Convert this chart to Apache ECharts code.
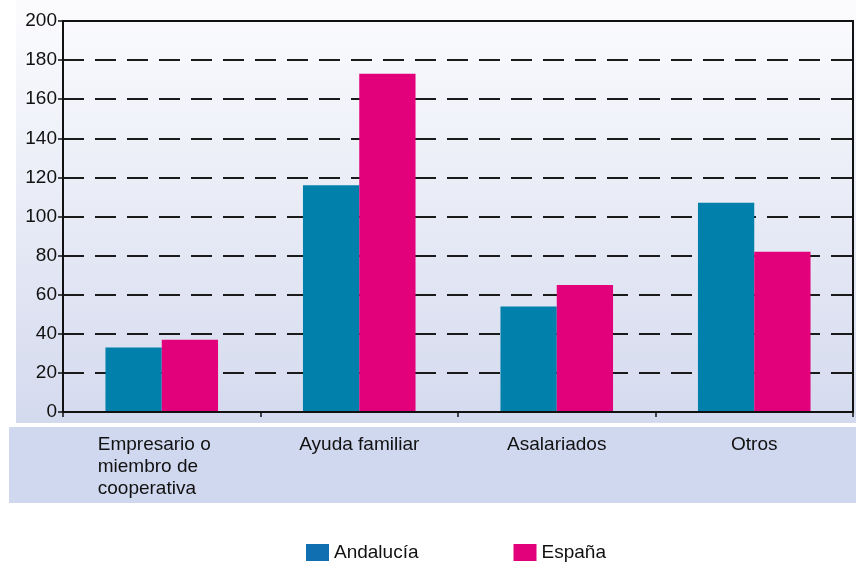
<!DOCTYPE html>
<html><head><meta charset="utf-8">
<script src="https://cdn.jsdelivr.net/npm/echarts@6/dist/echarts.min.js"></script>
<style>html,body{margin:0;padding:0;background:#fff}#c{width:856px;height:565px}</style>
</head><body><div id="c"></div>
<script>
var categories = ['Empresario o\nmiembro de\ncooperativa', 'Ayuda familiar', 'Asalariados', 'Otros'];
var andalucia = [33, 116, 54, 107];
var espana = [37, 173, 65, 82];
var yTicks = [0, 200, 20];

var chart = echarts.init(document.getElementById('c'), null, {renderer: 'canvas'});
var font = '"Liberation Sans", Arial, sans-serif';
var splitColors = [];
for (var i = 0; i < 10; i++) splitColors.push('#1a1a1a');
splitColors.push('rgba(0,0,0,0)');
chart.setOption({
  animation: false,
  backgroundColor: '#ffffff',
  graphic: [
    {type: 'rect', z: -10, silent: true, shape: {x: 16, y: 0, width: 840, height: 423},
     style: {fill: new echarts.graphic.LinearGradient(0, 0, 0, 1, [{offset: 0, color: '#fcfcfe'}, {offset: 1, color: '#d4daee'}])}},
    {type: 'rect', z: -10, silent: true, shape: {x: 9, y: 427, width: 847, height: 76},
     style: {fill: '#d0d8ef'}}
  ],
  grid: {left: 63, right: 3, top: 21, bottom: 153, containLabel: false},
  legend: {
    left: 306, top: 543, padding: 0, itemWidth: 23, itemHeight: 17, itemGap: 95,
    icon: 'rect',
    textStyle: {fontFamily: font, fontSize: 19, color: '#111'},
    data: [
      {name: 'Andalucía', itemStyle: {color: '#106fb0'}},
      {name: 'España', itemStyle: {color: '#e3007b'}}
    ]
  },
  xAxis: [{
    type: 'category', data: categories, z: 5,
    axisLine: {onZero: false, lineStyle: {color: '#111', width: 2}},
    axisTick: {show: true, length: 5, lineStyle: {color: '#111', width: 1.5}},
    axisLabel: {
      margin: 22, color: '#111', fontFamily: font, fontSize: 19, lineHeight: 22,
      formatter: function (v) {
        return v.indexOf('\n') >= 0 ? v.split('\n').map(function (s) { return '{l|' + s + '}'; }).join('\n') : v;
      },
      rich: {l: {width: 128, align: 'left', fontFamily: font, fontSize: 19, color: '#111', lineHeight: 22}}
    }
  }, {
    type: 'category', position: 'top', data: categories, z: 5,
    axisLine: {onZero: false, lineStyle: {color: '#111', width: 2}},
    axisTick: {show: false}, axisLabel: {show: false}
  }],
  yAxis: [{
    type: 'value', min: yTicks[0], max: yTicks[1], interval: yTicks[2],
    axisLine: {show: true, onZero: false, lineStyle: {color: '#111', width: 2}},
    axisTick: {show: true, length: 5, lineStyle: {color: '#111', width: 1.5}},
    axisLabel: {margin: 6, color: '#111', fontFamily: font, fontSize: 19},
    splitLine: {show: true, lineStyle: {color: splitColors, width: 2, type: [21, 11]}}
  }, {
    type: 'value', position: 'right', min: yTicks[0], max: yTicks[1], interval: yTicks[2], z: 5,
    axisLine: {show: true, onZero: false, lineStyle: {color: '#111', width: 2}},
    axisTick: {show: false}, axisLabel: {show: false}, splitLine: {show: false}
  }],
  series: [
    {name: 'Andalucía', type: 'bar', data: andalucia, barGap: '0%', barCategoryGap: '43%',
     itemStyle: {color: '#0080ab'}},
    {name: 'España', type: 'bar', data: espana, barGap: '0%', barCategoryGap: '43%',
     itemStyle: {color: '#e3007b'}}
  ]
});
</script></body></html>
